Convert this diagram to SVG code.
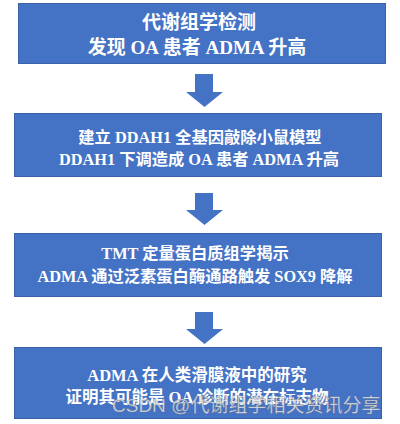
<svg xmlns="http://www.w3.org/2000/svg" width="400" height="424" viewBox="0 0 400 424">
<defs>
<style>
.box{fill:#4472C4;stroke:#3A62A8;stroke-width:1}
.t{font-family:"Liberation Serif","Noto Sans CJK SC",serif;font-weight:bold;fill:#ffffff;text-anchor:middle}
.arrow{fill:#4472C4}
.wm{font-family:"Liberation Sans","Noto Sans CJK SC",sans-serif;font-size:19px;fill:#ffffff;fill-opacity:0.8;stroke:#6d6d6d;stroke-width:0.6;stroke-opacity:0.6}
</style>
</defs>
<rect width="400" height="424" fill="#ffffff"/>
<g id="connectors">
<polygon class="arrow" points="195,74 213,74 213,92 223,92 204.5,107 186,92 195,92"/>
<polygon class="arrow" points="195,193 213,193 213,210 223,210 204.5,225 186,210 195,210"/>
<polygon class="arrow" points="195,312 213,312 213,329 223,329 204.5,344 186,329 195,329"/>
</g>
<g id="node1">
<rect class="box" x="18.5" y="3.5" width="367" height="60"/>
<text class="t" font-size="19" x="199" y="29">代谢组学检测</text>
<text class="t" font-size="19" x="197" y="54">发现 OA 患者 ADMA 升高</text>
</g>
<g id="node2">
<rect class="box" x="14.5" y="113.5" width="367" height="63"/>
<text class="t" font-size="16.3" x="200" y="143">建立 DDAH1 全基因敲除小鼠模型</text>
<text class="t" font-size="16.3" x="199" y="165">DDAH1 下调造成 OA 患者 ADMA 升高</text>
</g>
<g id="node3">
<rect class="box" x="14.5" y="233.5" width="367" height="63"/>
<text class="t" font-size="16.3" x="195" y="259">TMT 定量蛋白质组学揭示</text>
<text class="t" font-size="16.3" x="195" y="282">ADMA 通过泛素蛋白酶通路触发 SOX9 降解</text>
</g>
<g id="node4">
<rect class="box" x="14.5" y="347.5" width="367" height="71"/>
<text class="t" font-size="16.5" x="197" y="381">ADMA 在人类滑膜液中的研究</text>
<text class="t" font-size="16.5" x="197" y="403">证明其可能是 OA 诊断的潜在标志物</text>
</g>
<text class="wm" x="112" y="412">CSDN @代谢组学相关资讯分享</text>
</svg>
